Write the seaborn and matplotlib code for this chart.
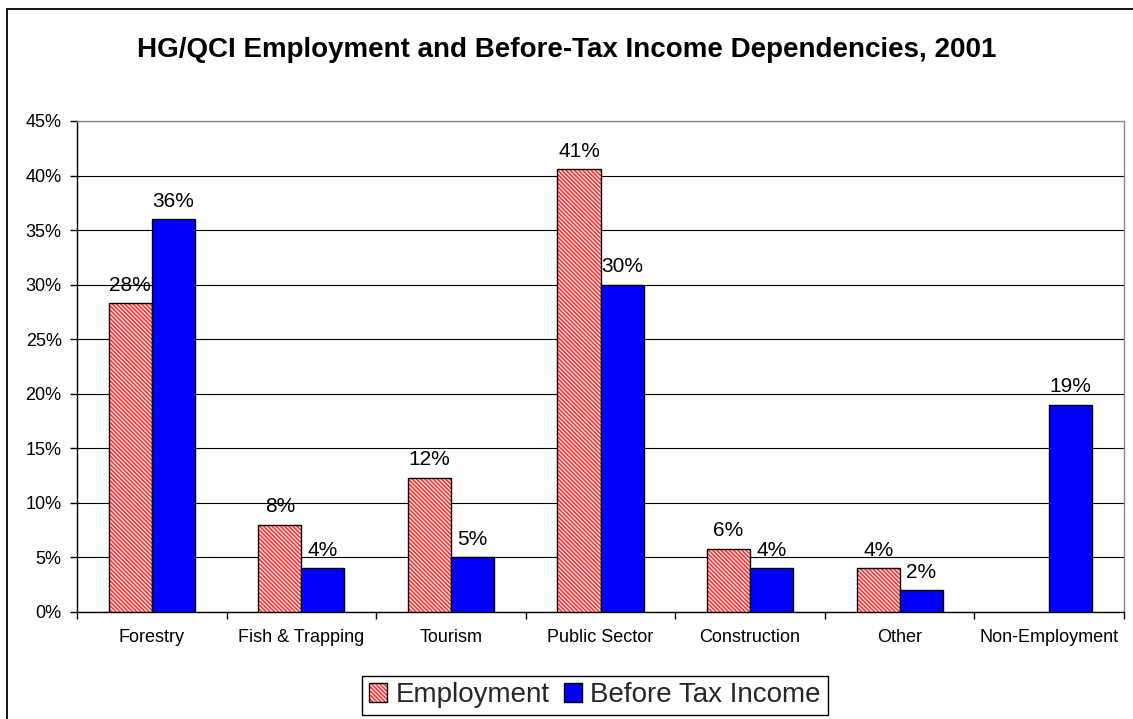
import numpy as np
import pandas as pd
import matplotlib
matplotlib.use("Agg")
import matplotlib.pyplot as plt
import matplotlib.colors as mcolors
from matplotlib.patches import Patch, Rectangle
from matplotlib.ticker import FixedLocator, PercentFormatter
import seaborn as sns

categories = ["Forestry", "Fish & Trapping", "Tourism", "Public Sector",
              "Construction", "Other", "Non-Employment"]
employment = [28.3, 8.0, 12.3, 40.6, 5.8, 4.0, np.nan]
before_tax_income = [36.0, 4.0, 5.0, 30.0, 4.0, 2.0, 19.0]
series_names = ["Employment", "Before Tax Income"]
title = "HG/QCI Employment and Before-Tax Income Dependencies, 2001"

df = pd.DataFrame({
    "category": categories * 2,
    "series": [series_names[0]] * len(categories) + [series_names[1]] * len(categories),
    "value": employment + before_tax_income,
})

sns.set_style("white")
plt.rcParams["font.family"] = ["Liberation Sans", "DejaVu Sans"]
plt.rcParams["hatch.linewidth"] = 1.0

W, H = 1133, 719
fig = plt.figure(figsize=(W / 100, H / 100), dpi=100)
ax = fig.add_axes([77 / W, 1 - 612 / H, (1124 - 77) / W, (612 - 121) / H])

blue = "#0000ff"
pink_face = "#ffd6d6"
hatch_red = "#ff2a2a"
hatch = "\\" * 8
sns.barplot(data=df, x="category", y="value", hue="series", order=categories,
            hue_order=series_names, palette=[pink_face, blue], width=0.575,
            saturation=1, edgecolor="black", linewidth=1.0, ax=ax,
            legend=False, zorder=3)

n = len(categories)
series_vals = [employment, before_tax_income]
for si, container in enumerate(ax.containers[:2]):
    vals = series_vals[si]
    for p in container.patches:
        ci = int(round(p.get_x() + p.get_width() / 2))
        v = vals[ci]
        if v is None or np.isnan(v):
            continue
        if si == 0:
            p.set_hatch(hatch)
            p._hatch_color = mcolors.to_rgba(hatch_red)
        ax.annotate(f"{v:.0f}%", (p.get_x() + p.get_width() / 2, p.get_height()),
                    xytext=(0, 6), textcoords="offset points", ha="center",
                    va="bottom", fontsize=15, color="black")

ax.set_ylim(0, 45)
ax.set_xlim(-0.5, n - 0.5)
ax.yaxis.set_major_locator(FixedLocator(np.arange(0, 46, 5)))
ax.yaxis.set_major_formatter(PercentFormatter(decimals=0))
ax.set_xlabel("")
ax.set_ylabel("")
ax.grid(axis="y", color="black", linewidth=0.8, zorder=0)
ax.set_axisbelow(True)

ax.xaxis.set_minor_locator(FixedLocator(np.arange(-0.5, n, 1.0)))
ax.tick_params(axis="x", which="major", length=0, labelsize=13, pad=12, colors="black")
ax.tick_params(axis="x", which="minor", length=5, width=1, direction="out",
               bottom=True, color="black")
ax.tick_params(axis="y", which="major", length=5, width=1, direction="out",
               left=True, labelsize=13, pad=6, colors="black")

for side in ("left", "bottom"):
    ax.spines[side].set_color("black")
    ax.spines[side].set_linewidth(1.0)
for side in ("top", "right"):
    ax.spines[side].set_visible(True)
    ax.spines[side].set_color("#888888")
    ax.spines[side].set_linewidth(1.0)

fig.text(0.5, 1 - 50 / H, title, ha="center", va="center", fontsize=20,
         fontweight="bold", color="black")

handles = [Patch(facecolor=pink_face, edgecolor="black", hatch=hatch, linewidth=1.0),
           Patch(facecolor=blue, edgecolor="black", linewidth=1.0)]
handles[0]._hatch_color = mcolors.to_rgba(hatch_red)
leg = fig.legend(handles, series_names, loc="center",
                 bbox_to_anchor=(595 / W, 1 - 695.5 / H),
                 ncol=2, fontsize=20, frameon=True, fancybox=False,
                 edgecolor="black", framealpha=1, handlelength=0.65,
                 handleheight=0.65, handletextpad=0.3, columnspacing=0.5,
                 borderpad=0.25, borderaxespad=0)
leg.get_frame().set_linewidth(1.0)
for h in leg.legend_handles:
    if h.get_hatch():
        h._hatch_color = mcolors.to_rgba(hatch_red)

# outer chart-area border (left and top edges visible in the frame)
fig.add_artist(Rectangle((7 / W, -0.05), 1.1, 1 - 9 / H + 0.05,
                         transform=fig.transFigure, fill=False,
                         edgecolor="black", linewidth=1.3))

fig.savefig("out.png", dpi=100, facecolor="white")
